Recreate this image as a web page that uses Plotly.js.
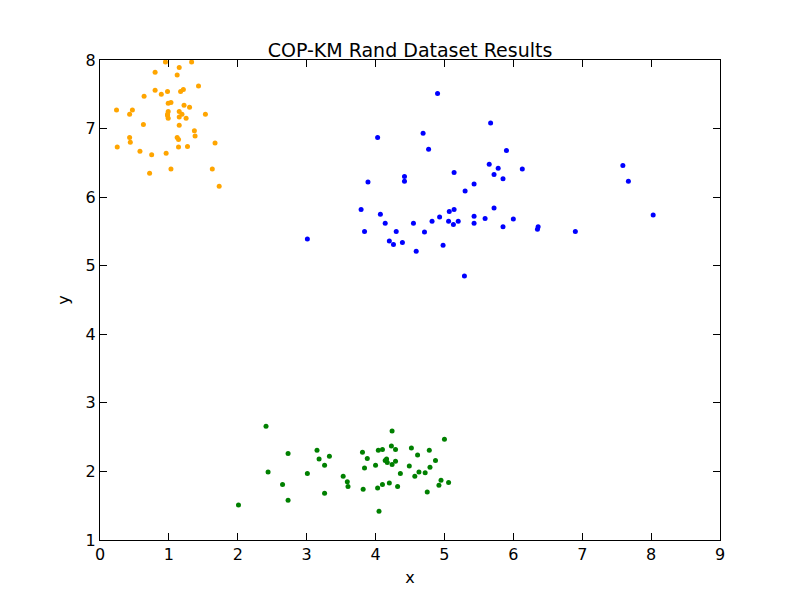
<!DOCTYPE html>
<html>
<head>
<meta charset="utf-8">
<script src="https://cdn.plot.ly/plotly-3.0.1.min.js"></script>
<style>body{margin:0}#chart{width:800px;height:600px}</style>
</head>
<body>
<div id="chart"></div>
<script>
// cluster 1 (orange)
var orangeX = [0.95,1.33,1.15,0.80,1.12,1.43,0.80,0.98,1.17,1.21,0.89,0.64,0.99,1.03,1.22,1.30,0.24,0.47,0.43,0.99,0.98,0.99,0.98,1.15,1.15,1.19,1.25,1.53,1.15,0.63,1.37,1.38,0.43,0.44,1.12,1.14,0.25,0.58,0.75,0.96,1.14,1.27,1.67,0.72,1.03,1.63,1.73];
var orangeY = [7.97,7.97,7.89,7.82,7.78,7.62,7.56,7.54,7.54,7.57,7.50,7.47,7.37,7.38,7.34,7.31,7.27,7.27,7.21,7.25,7.19,7.15,7.21,7.25,7.17,7.21,7.15,7.21,7.05,7.06,6.97,6.89,6.87,6.80,6.87,6.84,6.73,6.67,6.62,6.64,6.73,6.74,6.79,6.35,6.41,6.41,6.16];

// cluster 2 (blue)
var blueX = [4.90,5.67,4.03,4.69,4.77,5.90,5.65,5.78,5.72,5.85,6.13,5.14,4.42,4.42,3.89,5.43,5.30,7.59,7.67,8.03,3.79,4.07,4.14,3.84,4.30,4.20,4.26,4.39,4.59,4.55,4.71,4.82,4.93,5.07,5.14,5.06,5.13,5.20,4.98,5.43,5.43,5.59,5.72,5.85,6.00,6.35,6.36,6.90,3.01,5.29];
var blueY = [7.51,7.08,6.87,6.93,6.70,6.68,6.48,6.42,6.33,6.27,6.41,6.36,6.30,6.23,6.22,6.19,6.09,6.46,6.23,5.74,5.82,5.75,5.62,5.50,5.50,5.36,5.31,5.34,5.21,5.62,5.49,5.65,5.71,5.79,5.82,5.65,5.60,5.65,5.30,5.72,5.62,5.69,5.84,5.57,5.68,5.53,5.57,5.50,5.39,4.85];

// cluster 3 (green)
var greenX = [2.41,4.24,5.00,2.73,3.15,3.33,3.18,3.26,3.01,2.44,2.65,2.73,2.01,3.26,3.53,3.59,3.60,3.81,3.88,3.84,3.82,4.00,4.04,4.10,4.23,4.29,4.14,4.16,4.17,4.24,4.29,4.36,4.10,4.20,4.03,4.32,4.05,4.52,4.61,4.49,4.57,4.63,4.72,4.78,4.87,4.79,4.75,4.95,4.92,5.06];
var greenY = [2.66,2.59,2.47,2.26,2.31,2.22,2.18,2.09,1.97,1.99,1.81,1.58,1.51,1.68,1.93,1.85,1.78,2.28,2.19,2.05,1.74,2.09,2.31,2.32,2.37,2.32,2.16,2.18,2.13,2.10,2.15,1.97,1.81,1.83,1.76,1.78,1.42,2.34,2.24,2.08,1.93,1.99,1.98,2.31,2.16,2.06,1.70,1.87,1.80,1.84];

function cluster(x, y, color) {
  return {x: x, y: y, mode: "markers", type: "scatter",
    marker: {color: color, size: 5, line: {width: 0}}, hoverinfo: "none"};
}

var axisStyle = {
  showgrid: false, zeroline: false, showline: true, mirror: "ticks",
  linecolor: "black", linewidth: 1, ticks: "inside", ticklen: 7,
  tickcolor: "black", tickfont: {size: 16, color: "black"}
};

var layout = {
  width: 800, height: 600,
  margin: {l: 100, r: 80, t: 60, b: 60},
  showlegend: false,
  paper_bgcolor: "white", plot_bgcolor: "white",
  font: {family: "DejaVu Sans", color: "black"},
  title: {text: "COP-KM Rand Dataset Results", font: {size: 19}, x: 0.5, xref: "paper",
    yref: "container", y: 0.905, yanchor: "bottom"},
  xaxis: Object.assign({}, axisStyle, {range: [0, 9], dtick: 1, title: {text: "x", font: {size: 16}, standoff: 8}}),
  yaxis: Object.assign({}, axisStyle, {range: [1, 8], dtick: 1, title: {text: "y", font: {size: 16}, standoff: 12}})
};

Plotly.newPlot("chart", [
  cluster(orangeX, orangeY, "orange"),
  cluster(blueX, blueY, "blue"),
  cluster(greenX, greenY, "green")
], layout, {staticPlot: true});
</script>
</body>
</html>
